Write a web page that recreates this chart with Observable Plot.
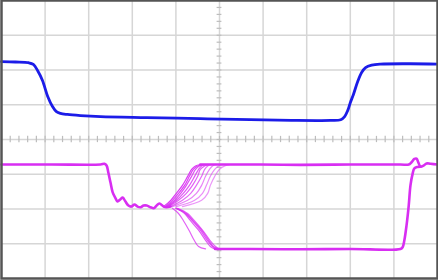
<!DOCTYPE html>
<html><head><meta charset="utf-8">
<script src="https://cdn.jsdelivr.net/npm/d3@7"></script>
<script src="https://cdn.jsdelivr.net/npm/@observablehq/plot@0.6"></script>
<style>body{margin:0;background:#fff;overflow:hidden}</style>
</head><body><div id="chart"></div>
<script>
// Units: time in horizontal divisions (0..10), voltage in vertical divisions (-4..4)
const ch1T = [0, 0.32, 0.62, 0.73, 0.83, 0.94, 1.06, 1.17, 1.26, 1.35, 1.51, 1.81, 2.27, 3.33, 4.56, 5.71, 6.67, 7.55, 7.78, 7.87, 7.94, 8.00, 8.07, 8.17, 8.26, 8.35, 8.49, 8.69, 9.38, 10];
const ch1V = [2.24, 2.23, 2.21, 2.16, 1.98, 1.70, 1.24, 0.95, 0.80, 0.75, 0.72, 0.69, 0.66, 0.63, 0.60, 0.57, 0.55, 0.55, 0.57, 0.66, 0.83, 1.06, 1.29, 1.67, 1.93, 2.07, 2.14, 2.17, 2.18, 2.17];

const ch2CommonT = [0, 1.15, 2.27, 2.36, 2.41, 2.45, 2.50, 2.55, 2.62, 2.66, 2.73, 2.78, 2.84, 2.91, 2.98, 3.05, 3.12, 3.19, 3.26, 3.33, 3.42, 3.49, 3.56, 3.62, 3.72, 3.78, 3.88];
const ch2CommonV = [-0.72, -0.72, -0.72, -0.70, -0.75, -0.95, -1.24, -1.52, -1.70, -1.78, -1.72, -1.67, -1.78, -1.90, -1.93, -1.87, -1.93, -1.95, -1.90, -1.90, -1.95, -1.98, -1.90, -1.84, -1.93, -1.95, -1.93];

// rising (persistence) traces: shared levels, one time list per trace
const riseLevels = [-1.93, -1.75, -1.55, -1.32, -1.06, -0.86, -0.76, -0.72];
const riseTimes = [
  [3.72, 3.88, 4.01, 4.15, 4.27, 4.36, 4.45, 4.56],
  [3.76, 3.92, 4.06, 4.20, 4.31, 4.40, 4.50, 4.61],
  [3.78, 3.97, 4.11, 4.24, 4.36, 4.45, 4.54, 4.66],
  [3.81, 4.01, 4.17, 4.31, 4.43, 4.52, 4.59, 4.70],
  [3.83, 4.06, 4.24, 4.38, 4.50, 4.56, 4.66, 4.75],
  [3.88, 4.15, 4.34, 4.47, 4.59, 4.66, 4.73, 4.82],
  [3.92, 4.27, 4.47, 4.59, 4.68, 4.77, 4.84, 4.93],
  [4.01, 4.43, 4.61, 4.70, 4.79, 4.89, 4.98, 5.09],
  [4.15, 4.59, 4.73, 4.79, 4.89, 5.00, 5.12, 5.25]
];
const riseOpacity = [0.95, 0.9, 0.85, 0.8, 0.75, 0.7, 0.6, 0.55, 0.5];

// falling (persistence) traces
const fallLevels = [-1.98, -2.13, -2.33, -2.61, -2.90, -3.08, -3.15];
const fallTimes = [
  [3.92, 4.06, 4.17, 4.30, 4.42, 4.52, 4.68],
  [3.99, 4.20, 4.33, 4.52, 4.68, 4.79, 4.89],
  [4.01, 4.22, 4.37, 4.56, 4.72, 4.84, 4.93],
  [4.01, 4.24, 4.39, 4.59, 4.75, 4.86, 4.98],
  [4.04, 4.27, 4.42, 4.61, 4.78, 4.91, 5.00]
];
const fallOpacity = [0.75, 0.8, 0.8, 0.8, 0.75];

const ch2HighT = [4.56, 5.94, 6.86, 8.00, 9.15, 9.34, 9.40, 9.47, 9.52, 9.56, 9.61, 9.68, 9.75, 9.84, 10];
const ch2HighV = [-0.72, -0.72, -0.73, -0.72, -0.72, -0.72, -0.66, -0.56, -0.55, -0.66, -0.78, -0.75, -0.69, -0.70, -0.72];

const ch2LowT = [4.90, 5.71, 6.86, 8.00, 9.15, 9.20, 9.24, 9.29, 9.34, 9.38, 9.43, 9.47, 9.54, 9.61];
const ch2LowV = [-3.15, -3.15, -3.16, -3.15, -3.15, -3.10, -2.90, -2.47, -1.90, -1.32, -0.98, -0.83, -0.79, -0.78];

const BLUE = "#1c1ce8";
const MAG = "#d82ef2";
const GRID = "#d6d6d6";

const rows = (t, v) => t.map((x, i) => ({t: x, v: v[i]}));

const marks = [
  Plot.ruleX(d3.range(1, 10), {stroke: GRID, strokeWidth: 1.5}),
  Plot.ruleY(d3.range(-3, 4), {stroke: GRID, strokeWidth: 1.5}),
  Plot.ruleX(d3.range(0, 10.01, 0.2).map(d => +d.toFixed(2)), {x: d => d, y1: -0.09, y2: 0.09, stroke: "#bdbdbd", strokeWidth: 1.2}),
  Plot.ruleY(d3.range(-4, 4.01, 0.2).map(d => +d.toFixed(2)), {y: d => d, x1: 4.945, x2: 5.055, stroke: "#bdbdbd", strokeWidth: 1.2})
];

riseTimes.forEach((tt, i) => marks.push(Plot.line(rows(tt, riseLevels), {x: "t", y: "v", stroke: MAG, strokeWidth: 1.2, strokeOpacity: riseOpacity[i], curve: "catmull-rom"})));
fallTimes.forEach((tt, i) => marks.push(Plot.line(rows(tt, fallLevels), {x: "t", y: "v", stroke: MAG, strokeWidth: 1.2, strokeOpacity: fallOpacity[i], curve: "catmull-rom"})));

marks.push(
  Plot.line(rows(ch2CommonT, ch2CommonV), {x: "t", y: "v", stroke: MAG, strokeWidth: 2.6, curve: "catmull-rom"}),
  Plot.line(rows(ch2HighT, ch2HighV), {x: "t", y: "v", stroke: MAG, strokeWidth: 2.6, curve: "catmull-rom"}),
  Plot.line(rows(ch2LowT, ch2LowV), {x: "t", y: "v", stroke: MAG, strokeWidth: 2.6, curve: "catmull-rom"}),
  Plot.line(rows(ch1T, ch1V), {x: "t", y: "v", stroke: BLUE, strokeWidth: 2.8, curve: "catmull-rom"}),
  Plot.frame({stroke: "#555", strokeWidth: 2.5})
);

const chart = Plot.plot({
  width: 438, height: 280,
  marginLeft: 1, marginRight: 1, marginTop: 0, marginBottom: 2,
  x: {domain: [0, 10], axis: null},
  y: {domain: [-4, 4], axis: null},
  style: {background: "#fff"},
  marks
});
document.getElementById("chart").appendChild(chart);
</script>
</body></html>
